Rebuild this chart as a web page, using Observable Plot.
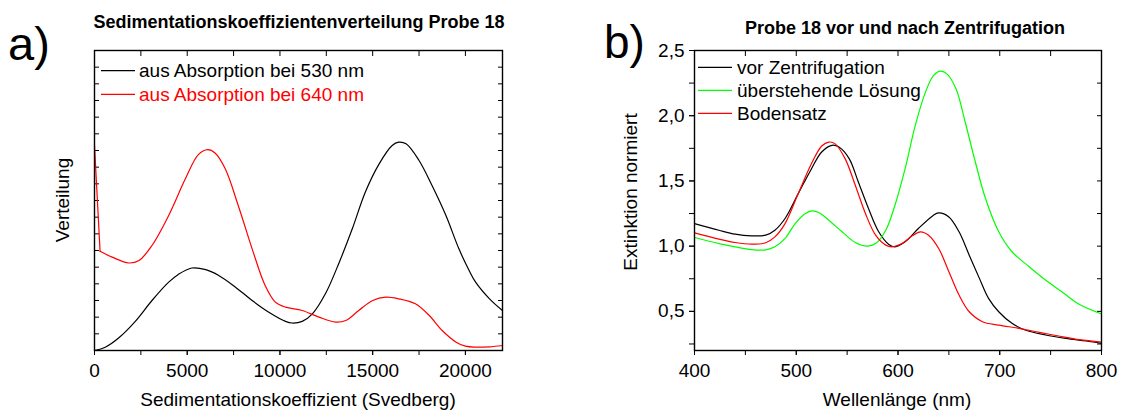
<!DOCTYPE html>
<html><head><meta charset="utf-8">
<script src="https://cdn.jsdelivr.net/npm/d3@7"></script>
<script src="https://cdn.jsdelivr.net/npm/@observablehq/plot@0.6"></script>
<style>
html,body{margin:0;padding:0;background:#fff;}
#wrap{position:relative;width:1121px;height:410px;overflow:hidden;font-family:"Liberation Sans",Arial,Helvetica,sans-serif;}
#pa,#pb{position:absolute;top:0;}
#pa{left:0;} #pb{left:560px;}
#ov{position:absolute;left:0;top:0;pointer-events:none;}
</style></head><body>
<div id="wrap"><div id="pa"></div><div id="pb"></div><svg id="ov" width="1121" height="410"></svg></div>
<script>
// ---------- Panel a: Sedimentationskoeffizientenverteilung ----------
const sed530X = [0, 580, 1300, 2200, 3100, 4000, 4500, 5250, 6000, 6700, 7600, 8500, 9400, 10300, 10650, 11200, 11750, 12450, 13200, 13900, 14600, 15350, 16050, 16400, 16800, 17500, 18200, 18950, 19650, 20200, 20550, 21300, 22000];
const sed530Y = [0, 0.2, 0.75, 1.75, 3.0, 4.1, 4.55, 4.95, 4.85, 4.5, 3.8, 3.0, 2.3, 1.75, 1.65, 1.75, 2.2, 3.4, 5.3, 7.3, 9.5, 11.2, 12.3, 12.5, 12.4, 11.4, 9.9, 8.1, 6.1, 4.8, 4.1, 3.1, 2.4];
const sed640X = [0, 300, 950, 1850, 2400, 3100, 4000, 4900, 5600, 6100, 6500, 7050, 7750, 8500, 9200, 9750, 10300, 11200, 12100, 13000, 13550, 14250, 15000, 15700, 16400, 17300, 18050, 18750, 19500, 20000, 20550, 21300, 22000];
const sed640Y = [12.3, 5.95, 5.6, 5.25, 5.4, 6.3, 8.1, 10.3, 11.75, 12.05, 11.85, 10.9, 8.7, 6.1, 3.9, 2.9, 2.6, 2.4, 2.0, 1.7, 1.8, 2.4, 3.0, 3.2, 3.1, 2.8, 2.1, 1.2, 0.5, 0.26, 0.2, 0.22, 0.3];
const sedMajorTicks = [0, 5000, 10000, 15000, 20000];
const sedMinorTicks = [0, 2500, 5000, 7500, 10000, 12500, 15000, 17500, 20000];
const distTicks = [0,1,2,3,4,5,6,7,8,9,10,11,12,13,14,15,16,17,18];
const sedSeries = ["aus Absorption bei 530 nm", "aus Absorption bei 640 nm"];
const sedColors = ["#000000", "#ff0000"];

// ---------- Panel b: Probe 18 vor und nach Zentrifugation ----------
const vorX = [400, 424, 440, 456, 470, 479, 489, 502, 515, 525, 535, 542, 552, 561, 571, 581, 591, 597, 607, 620, 634, 640, 650, 660, 670, 680, 689, 699, 712, 725, 745, 765, 785, 800];
const vorY = [1.173, 1.122, 1.092, 1.079, 1.084, 1.122, 1.212, 1.403, 1.594, 1.722, 1.773, 1.760, 1.671, 1.492, 1.288, 1.110, 1.013, 0.995, 1.033, 1.135, 1.232, 1.255, 1.224, 1.110, 0.931, 0.753, 0.600, 0.497, 0.408, 0.357, 0.319, 0.293, 0.273, 0.255];
const ueberX = [400, 424, 440, 456, 470, 479, 489, 499, 509, 515.5, 522, 532, 545, 558, 570, 578, 588, 597, 607, 617, 627, 635, 642, 648, 657, 666, 676, 686, 699, 712, 729, 745, 762, 778, 800];
const ueberY = [1.066, 1.020, 0.995, 0.974, 0.972, 0.995, 1.059, 1.173, 1.25, 1.270, 1.258, 1.199, 1.110, 1.028, 1.0, 1.020, 1.122, 1.314, 1.594, 1.926, 2.181, 2.309, 2.342, 2.321, 2.207, 1.952, 1.645, 1.365, 1.110, 0.957, 0.842, 0.740, 0.645, 0.554, 0.48];
const bodenX = [400, 424, 440, 456, 470, 479, 489, 502, 515, 525, 532, 538, 548, 558, 568, 578, 588, 594, 604, 614, 622, 630, 640, 650, 660, 670, 683, 699, 719, 739, 758, 778, 800];
const bodenY = [1.102, 1.054, 1.028, 1.015, 1.026, 1.071, 1.173, 1.403, 1.633, 1.768, 1.798, 1.786, 1.671, 1.467, 1.25, 1.084, 1.008, 0.995, 1.02, 1.079, 1.110, 1.084, 0.982, 0.804, 0.625, 0.497, 0.421, 0.395, 0.370, 0.339, 0.311, 0.283, 0.265];
const wlMajorTicks = [400, 500, 600, 700, 800];
const wlMinorTicks = [400, 450, 500, 550, 600, 650, 700, 750, 800];
const extMajorTicks = [0.5, 1.0, 1.5, 2.0, 2.5];
const extMinorTicks = [0.25, 0.5, 0.75, 1.0, 1.25, 1.5, 1.75, 2.0, 2.25, 2.5];
const specSeries = ["vor Zentrifugation", "überstehende Lösung", "Bodensatz"];
const specColors = ["#000000", "#00ff00", "#ff0000"];

const FONT = '"Liberation Sans", Arial, Helvetica, sans-serif';
const toRows = (xs, ys, s) => xs.map((x, i) => ({x, y: ys[i], s}));

const sed530Rows = toRows(sed530X, sed530Y, sedSeries[0]);
const sed640Rows = toRows(sed640X, sed640Y, sedSeries[1]);
const specData = [...toRows(vorX, vorY, specSeries[0]), ...toRows(ueberX, ueberY, specSeries[1]), ...toRows(bodenX, bodenY, specSeries[2])];

const commonStyle = {fontFamily: FONT, fontSize: "19px", color: "#000", background: "transparent", overflow: "visible"};

const plotA = Plot.plot({
  width: 560, height: 410,
  marginLeft: 94, marginRight: 58, marginTop: 50, marginBottom: 60,
  style: commonStyle,
  x: {domain: [0, 22000], label: null},
  y: {domain: [0, 18], label: null},
  color: {domain: sedSeries, range: sedColors},
  marks: [
    Plot.axisX({ticks: sedMajorTicks, tickSize: 5, tickPadding: 8, tickFormat: d => String(d), label: null}),
    Plot.axisX({ticks: sedMinorTicks, tickSize: 5, fill: "none", label: null}),
    Plot.axisX({anchor: "top", ticks: sedMinorTicks, tickSize: 5, dy: 5, fill: "none", label: null}),
    Plot.axisY({ticks: distTicks, tickSize: 5, dx: 5, fill: "none", label: null}),
    Plot.axisY({anchor: "right", ticks: distTicks, tickSize: 5, dx: -5, fill: "none", label: null}),
    Plot.line(sed530Rows, {x: "x", y: "y", stroke: "s", strokeWidth: 1.2, curve: "catmull-rom"}),
    // sharp initial drop of the 640 nm curve, then the smooth remainder
    Plot.line(sed640Rows.slice(0, 2), {x: "x", y: "y", stroke: "s", strokeWidth: 1.2, curve: "linear"}),
    Plot.line(sed640Rows.slice(1), {x: "x", y: "y", stroke: "s", strokeWidth: 1.2, curve: "catmull-rom"}),
    Plot.frame({stroke: "#000", strokeWidth: 1.4})
  ]
});
document.getElementById("pa").appendChild(plotA);

const plotB = Plot.plot({
  width: 561, height: 410,
  marginLeft: 134, marginRight: 20, marginTop: 50, marginBottom: 60,
  style: commonStyle,
  x: {domain: [400, 800], label: null},
  y: {domain: [0.2, 2.5], label: null},
  color: {domain: specSeries, range: specColors},
  marks: [
    Plot.axisX({ticks: wlMajorTicks, tickSize: 5, tickPadding: 8, tickFormat: d => String(d), label: null}),
    Plot.axisX({ticks: wlMinorTicks, tickSize: 5, fill: "none", label: null}),
    Plot.axisX({anchor: "top", ticks: wlMinorTicks, tickSize: 5, dy: 5, fill: "none", label: null}),
    Plot.axisY({ticks: extMajorTicks, tickSize: 5, tickPadding: 5, tickFormat: d => d.toFixed(1).replace(".", ","), label: null}),
    Plot.axisY({ticks: extMinorTicks, tickSize: 5, fill: "none", label: null}),
    Plot.axisY({anchor: "right", ticks: extMinorTicks, tickSize: 5, dx: -5, fill: "none", label: null}),
    Plot.line(specData, {x: "x", y: "y", z: "s", stroke: "s", strokeWidth: 1.2, curve: "catmull-rom"}),
    Plot.frame({stroke: "#000", strokeWidth: 1.4})
  ]
});
document.getElementById("pb").appendChild(plotB);

// ---------- overlay: titles, panel letters, legends, axis titles ----------
const ov = d3.select("#ov").style("font-family", FONT);
function txt(x, y, s, opt = {}) {
  const t = ov.append("text").attr("x", x).attr("y", y).text(s)
    .attr("font-size", opt.size || 19).attr("fill", opt.fill || "#000")
    .attr("text-anchor", opt.anchor || "start");
  if (opt.bold) t.attr("font-weight", "bold");
  if (opt.rotate) t.attr("transform", `rotate(-90 ${x} ${y})`);
  return t;
}
txt(8, 60, "a)", {size: 47});
txt(299, 28, "Sedimentationskoeffizientenverteilung Probe 18", {size: 18, bold: true, anchor: "middle"});
sedSeries.forEach((s, i) => {
  const yb = 77.2 + i * 23.6;
  ov.append("line").attr("x1", 101).attr("x2", 135).attr("y1", yb - 6.5).attr("y2", yb - 6.5)
    .attr("stroke", sedColors[i]).attr("stroke-width", 1.2);
  txt(139, yb, s, {fill: sedColors[i]});
});
txt(69, 200, "Verteilung", {rotate: true, anchor: "middle"});
txt(298, 406, "Sedimentationskoeffizient (Svedberg)", {anchor: "middle"});

txt(604, 58, "b)", {size: 46});
txt(905, 34, "Probe 18 vor und nach Zentrifugation", {size: 18, bold: true, anchor: "middle"});
specSeries.forEach((s, i) => {
  const yb = 73.8 + i * 23;
  ov.append("line").attr("x1", 698).attr("x2", 732).attr("y1", yb - 6.5).attr("y2", yb - 6.5)
    .attr("stroke", specColors[i]).attr("stroke-width", 1.2);
  txt(737, yb, s);
});
txt(637, 192, "Extinktion normiert", {rotate: true, anchor: "middle"});
txt(897, 406, "Wellenlänge (nm)", {anchor: "middle"});
</script></body></html>
